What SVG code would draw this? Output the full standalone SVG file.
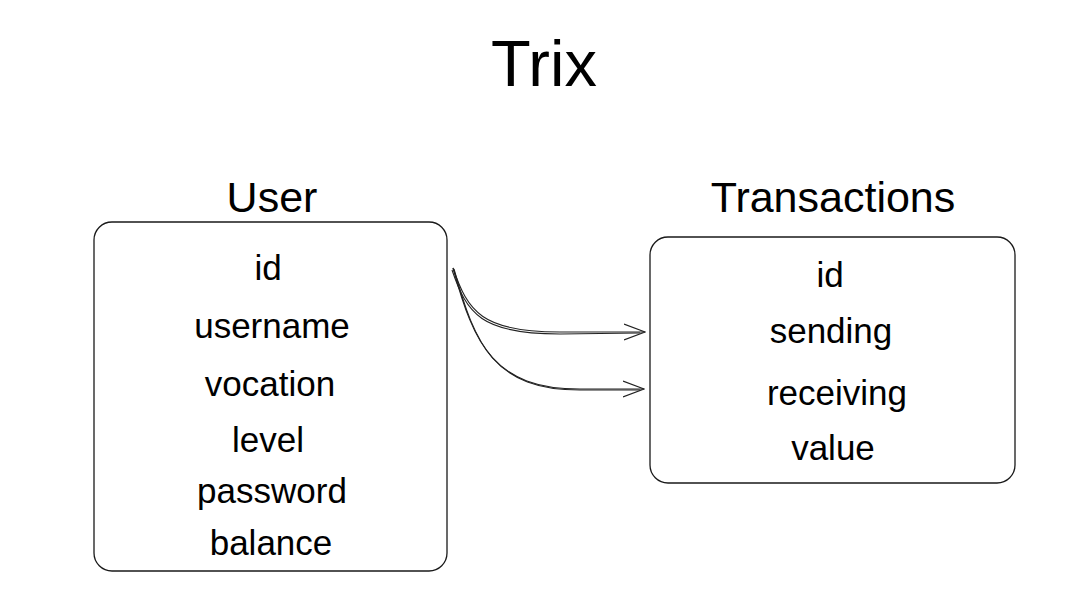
<svg xmlns="http://www.w3.org/2000/svg" width="1089" height="594" viewBox="0 0 1089 594">
<defs>
<style>
.t{font-family:"Liberation Sans",Arial,sans-serif;fill:#000;text-anchor:middle}
.f{font-size:35px}
.h{font-size:43px}
.box{fill:#fff;stroke:#1a1a1a;stroke-width:1.3}
.c{fill:none;stroke:#222;stroke-width:1.1}
</style>
<marker id="ah" viewBox="0 0 22 18" refX="21" refY="9" markerWidth="22" markerHeight="18" markerUnits="userSpaceOnUse" orient="auto">
<path d="M0,1 L21,9 L0,17" fill="none" stroke="#222" stroke-width="1.2"/>
</marker>
</defs>
<rect width="1089" height="594" fill="#fff"/>
<text class="t" x="544" y="86" font-size="65">Trix</text>
<g id="user">
<text class="t h" x="272" y="212">User</text>
<rect class="box" x="94" y="222" width="353" height="349" rx="18"/>
<text class="t f" x="268" y="280">id</text>
<text class="t f" x="272" y="338">username</text>
<text class="t f" x="270" y="396">vocation</text>
<text class="t f" x="268" y="452">level</text>
<text class="t f" x="272" y="503">password</text>
<text class="t f" x="271" y="555">balance</text>
</g>
<g id="transactions">
<text class="t h" x="833" y="212">Transactions</text>
<rect class="box" x="650" y="237" width="365" height="246" rx="18"/>
<text class="t f" x="830" y="287">id</text>
<text class="t f" x="831" y="343">sending</text>
<text class="t f" x="837" y="405">receiving</text>
<text class="t f" x="833" y="460">value</text>
</g>
<g id="connectors">
<path class="c" d="M453,268 C468,312 482,332 560,332 L645,332" marker-end="url(#ah)"/>
<path class="c" d="M452,270 C467,314 481,334 560,334 L640,333"/>
<path class="c" d="M453,268 C474,345 494,389 580,389 L644,389" marker-end="url(#ah)"/>
<path class="c" d="M454,269 C475,346 495,390 580,390 L640,390"/>
</g>
</svg>
